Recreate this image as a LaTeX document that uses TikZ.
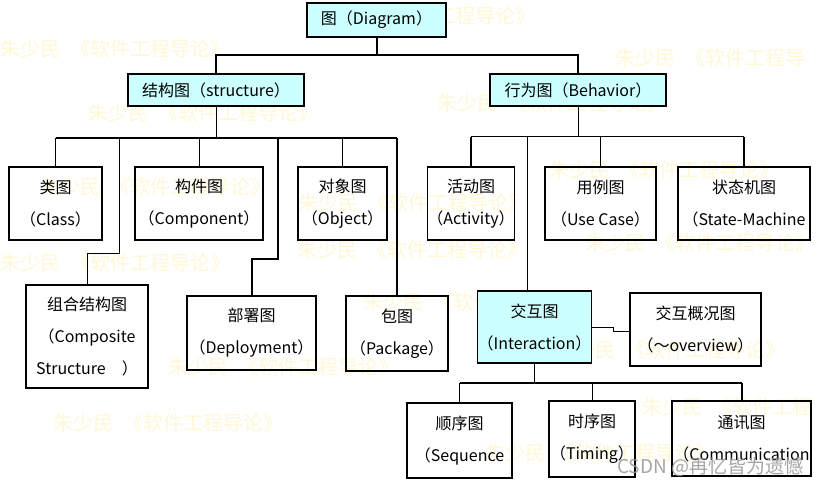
\documentclass[tikz,border=0pt]{standalone}
\usepackage{fontspec}
\setmainfont{Noto Sans CJK SC}
\usetikzlibrary{positioning,calc}
\definecolor{cyanfill}{RGB}{204,255,255}
\definecolor{wmark}{RGB}{255,247,214}
\definecolor{csdngray}{RGB}{150,150,150}
\tikzset{
  dbox/.style={draw, rectangle, line width=1.6pt, inner sep=0pt, align=center, font=\fontsize{16}{32}\selectfont},
  cbox/.style={dbox, fill=cyanfill},
  lnk/.style={line width=1pt},
  tlnk/.style={line width=2pt},
  wm/.style={anchor=west, inner sep=0pt, text=wmark, font=\fontsize{20}{20}\selectfont},
}

\begin{document}
\begin{tikzpicture}[x=1pt, y=-1pt]

\useasboundingbox (0,0) rectangle (824,487);

\foreach \wx/\wy [count=\i] in {0/49, 305/16, 88/113, 437/103, 40/187, 298/203, 549/170, 585/243,
  297/250, 0/263, 168/367, 53/423, 363/302, 555/350, 485/453}
  \node[wm] (wm\i) at (\wx,\wy) {朱少民\hspace{.5em}《软件工程导论》};
\node[wm] (wmr1) at (615,58) {朱少民\hspace{.5em}《软件工程导};
\node[wm] (wmr2) at (642,407) {朱少民\hspace{.5em}《软件工程};

\node[cbox, minimum width=139pt, minimum height=34pt] (diag) at (376.5,20) {图（Diagram）};

\node[cbox, minimum width=176pt, minimum height=32pt] (struct) at (216,90) {结构图（structure）};
\node[cbox, minimum width=176pt, minimum height=32pt] (behav) at (578,90) {行为图（Behavior）};

\node[dbox, minimum width=93pt, minimum height=73pt] (class) at (55.5,203.5) {类图\\（Class）};
\node[dbox, minimum width=128pt, minimum height=73pt] (comp) at (199,203.5) {构件图\\（Component）};
\node[dbox, minimum width=89pt, minimum height=73pt] (obj) at (342.5,203.5) {对象图\\（Object）};
\node[dbox, minimum width=122pt, minimum height=103pt] (compo) at (87,336.5) {组合结构图\\（Composite\\Structure\hspace{1em}）};
\node[dbox, minimum width=129pt, minimum height=74pt] (deploy) at (251.5,333) {部署图\\（Deployment）};
\node[dbox, minimum width=102pt, minimum height=75pt] (pkg) at (397,333.5) {包图\\（Package）};

\node[dbox, minimum width=86pt, minimum height=73pt] (act) at (471,203.5) {活动图\\（Activity）};
\node[dbox, minimum width=111pt, minimum height=73pt] (usecase) at (600.5,203.5) {用例图\\（Use Case）};
\node[dbox, minimum width=132pt, minimum height=73pt] (state) at (744,203.5) {状态机图\\（State-Machine};

\node[cbox, minimum width=111pt, minimum height=72pt] (inter) at (534.5,327) {交互图\\（Interaction）};
\node[dbox, minimum width=131pt, minimum height=73pt] (over) at (695.5,329.5) {交互概况图\\（～overview）};

\node[dbox, minimum width=105pt, minimum height=75pt] (seq) at (459.5,440.5) {顺序图\\（Sequence};
\node[dbox, minimum width=86pt, minimum height=76pt] (timing) at (592,439) {时序图\\（Timing）};
\node[dbox, minimum width=139pt, minimum height=75pt] (comm) at (741.5,438.5) {通讯图\\（Communication};

\draw[tlnk] (diag.south) -- ++(0,17) -| (struct.north);
\draw[tlnk] (diag.south) -- ++(0,17) -| (behav.north);

\draw[lnk] (struct.south) -- ++(0,31) coordinate (sbus);
\draw[tlnk] (class.north |- sbus) -- (pkg.north |- sbus);
\draw[lnk] (class.north) -- (class.north |- sbus);
\draw[lnk] (comp.north) -- (comp.north |- sbus);
\draw[lnk] (obj.north) -- (obj.north |- sbus);
\draw[tlnk] (pkg.north) -- (pkg.north |- sbus);
\draw[lnk] (compo.north) -- ++(0,-31) -| ([xshift=32pt]compo.north |- sbus);
\draw[tlnk] (deploy.north) -- ++(0,-36) -| ([xshift=26.5pt]deploy.north |- sbus);

\draw[lnk] (behav.south) -- ++(0,30) coordinate (bbus);
\draw[lnk] (act.north |- bbus) -- (state.north |- bbus);
\draw[tlnk] (act.north) -- (act.north |- bbus);
\draw[lnk] (usecase.north) -- (usecase.north |- bbus);
\draw[tlnk] (state.north) -- (state.north |- bbus);
\draw[lnk] ([xshift=-7.5pt]inter.north) -- ([xshift=-7.5pt]inter.north |- bbus);

\draw[lnk] (inter.south) -- ++(0,19) coordinate (ibus);
\draw[tlnk] (seq.north |- ibus) -- (comm.north |- ibus);
\draw[lnk] (seq.north) -- (seq.north |- ibus);
\draw[lnk] (timing.north) -- (timing.north |- ibus);
\draw[tlnk] (comm.north) -- (comm.north |- ibus);
\draw[lnk] (inter.east) -- ++(21,0) |- ([yshift=-1.5pt]over.west);

\node[anchor=west, inner sep=0pt, text=csdngray, text opacity=0.85, font=\fontsize{19}{19}\selectfont] (csdn) at (617,467) {CSDN @再忆皆为遗憾};

\end{tikzpicture}
\end{document}
